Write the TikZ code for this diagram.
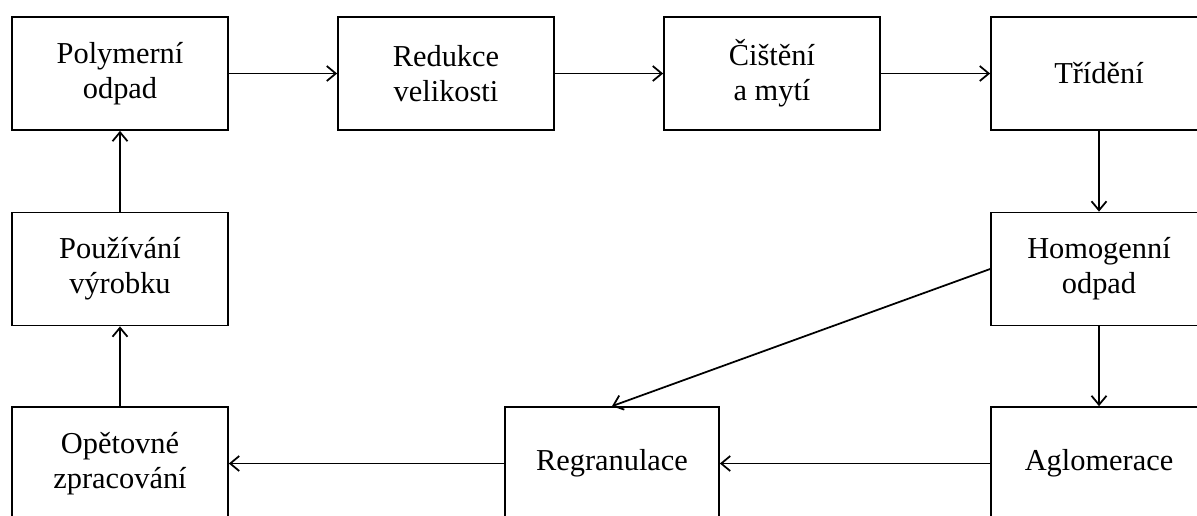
\documentclass[tikz,border=0pt]{standalone}
\usepackage{fontspec}
\setmainfont{Liberation Serif}
\usepackage{tikz}
\usetikzlibrary{arrows.meta}

\begin{document}
\begin{tikzpicture}[x=0.02cm,y=-0.02cm]
      \useasboundingbox (0,0) rectangle (1197,515);
      \begin{scope}[every node/.style={rectangle,draw,line width=1pt,align=center,
          minimum width=4.32cm,minimum height=2.26cm,
          font=\fontsize{17.3}{20}\selectfont}]
        \node (pol) at (120,73.5)   {Polymerní\\odpad};
        \node (red) at (446,73.5)   {Redukce\\velikosti};
        \node (cis) at (772,73.5)   {Čištění\\a mytí};
        \node (tri) at (1099,73.5)  {Třídění};
        \node (pou) at (120,269)    {Používání\\výrobku};
        \node (hom) at (1099,269)   {Homogenní\\odpad};
        \node (opz) at (120,463.5)  {Opětovné\\zpracování};
        \node[minimum width=4.28cm] (reg) at (612,463.5) {Regranulace};
        \node (agl) at (1099,463.5) {Aglomerace};
      \end{scope}
      \begin{scope}[>={Straight Barb[length=1.8mm,width=3mm]},every edge/.style={draw=black,line width=1pt}]
        \path[->] (pol) edge (red);
        \path[->] (red) edge (cis);
        \path[->] (cis) edge (tri);
        \path[->] (tri) edge (hom);
        \path[->] (hom) edge (agl);
        \path[->] (hom.west) edge (reg.north);
        \path[->] (agl) edge (reg);
        \path[->] (reg) edge (opz);
        \path[->] (opz) edge (pou);
        \path[->] (pou) edge (pol);
      \end{scope}
    \end{tikzpicture}
\end{document}
